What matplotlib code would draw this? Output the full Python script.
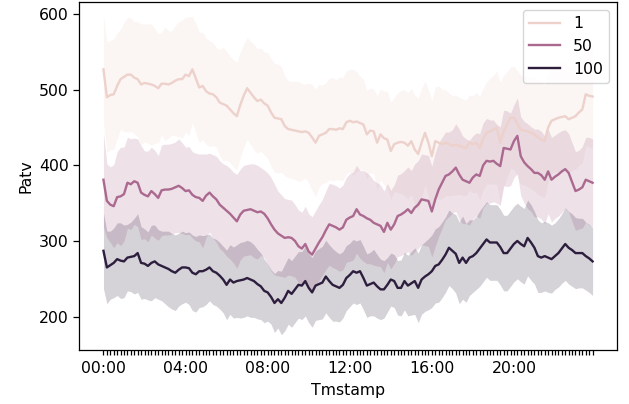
import matplotlib
matplotlib.use("Agg")
import matplotlib.pyplot as plt
import seaborn as sns
import numpy as np

# 10-minute slots over one day
times = ["%02d:%02d" % (h, m) for h in range(24) for m in range(0, 60, 10)]
hue_levels = [1, 50, 100]

# mean Patv per slot
patv_1 = [527, 490, 493, 494, 505, 514, 517, 520, 520, 516, 514, 507, 509, 508, 507, 505,
          502, 508, 508, 507, 509, 512, 514, 514, 520, 518, 527, 515, 503, 505, 498, 495,
          494, 490, 483, 481, 479, 474, 469, 465, 480, 492, 502, 496, 490, 485, 487, 482,
          479, 470, 463, 462, 461, 452, 448, 447, 446, 445, 444, 445, 443, 437, 430, 439,
          441, 443, 448, 448, 447, 449, 448, 457, 459, 457, 458, 456, 454, 441, 446, 445,
          430, 441, 436, 434, 419, 428, 430, 431, 430, 426, 432, 421, 415, 430, 443, 430,
          412, 432, 430, 428, 430, 428, 426, 427, 426, 424, 423, 430, 428, 430, 423, 435,
          443, 445, 447, 450, 430, 445, 454, 463, 463, 455, 447, 446, 445, 443, 441, 437,
          434, 432, 450, 459, 461, 463, 464, 465, 461, 463, 465, 470, 474, 494, 492, 491]
patv_50 = [381, 353, 348, 346, 358, 359, 362, 377, 375, 379, 377, 364, 361, 359, 366, 362,
           357, 367, 368, 368, 369, 371, 373, 370, 366, 367, 361, 358, 357, 353, 360, 364,
           359, 355, 348, 344, 340, 336, 331, 326, 335, 340, 341, 342, 340, 338, 339, 336,
           330, 322, 315, 310, 307, 304, 305, 304, 300, 293, 290, 296, 286, 282, 290, 298,
           305, 314, 322, 320, 318, 315, 318, 328, 331, 333, 342, 335, 333, 330, 328, 324,
           322, 320, 312, 324, 315, 322, 333, 335, 338, 342, 337, 344, 348, 355, 354, 353,
           339, 355, 368, 377, 386, 388, 392, 397, 388, 381, 379, 377, 384, 388, 386, 400,
           406, 405, 406, 402, 399, 423, 422, 421, 432, 439, 412, 404, 399, 395, 390, 390,
           387, 381, 392, 381, 385, 388, 392, 395, 390, 378, 366, 368, 371, 381, 379, 377]
patv_100 = [287, 265, 268, 271, 276, 274, 273, 278, 279, 280, 284, 271, 270, 267, 271, 273,
            269, 267, 265, 263, 260, 258, 262, 265, 265, 264, 258, 256, 260, 260, 262, 265,
            260, 258, 254, 249, 242, 249, 245, 247, 248, 249, 251, 249, 247, 243, 240, 234,
            232, 226, 218, 223, 218, 225, 234, 230, 236, 242, 241, 247, 238, 232, 241, 243,
            245, 253, 247, 242, 240, 238, 242, 251, 255, 260, 258, 260, 251, 241, 243, 245,
            240, 236, 236, 242, 249, 247, 238, 238, 247, 241, 244, 247, 238, 249, 253, 256,
            260, 267, 269, 275, 282, 291, 287, 283, 271, 278, 271, 278, 280, 284, 290, 296,
            302, 298, 298, 298, 292, 284, 284, 290, 296, 300, 296, 293, 304, 298, 291, 280,
            278, 280, 278, 276, 280, 284, 290, 296, 291, 288, 284, 284, 284, 280, 277, 273]

# half width of the confidence band per slot
ci_1 = [71, 73, 72, 73, 70, 66, 72, 76, 75, 74, 76, 80, 78, 79, 80, 76,
        72, 68, 75, 71, 69, 73, 76, 78, 76, 78, 70, 72, 73, 71, 70, 70,
        68, 66, 70, 75, 72, 70, 71, 71, 70, 68, 67, 68, 70, 69, 68, 68,
        70, 71, 72, 72, 70, 66, 64, 64, 65, 66, 64, 62, 66, 70, 71, 68,
        65, 66, 67, 68, 66, 68, 68, 68, 68, 70, 66, 62, 60, 58, 56, 56,
        62, 60, 62, 64, 64, 62, 66, 68, 70, 70, 70, 72, 74, 72, 68, 70,
        74, 72, 75, 72, 70, 68, 66, 66, 64, 64, 63, 63, 64, 66, 68, 67,
        67, 70, 72, 75, 80, 74, 70, 67, 68, 70, 72, 72, 73, 74, 75, 76,
        75, 74, 72, 70, 70, 72, 72, 70, 70, 70, 70, 70, 70, 68, 68, 68]
ci_50 = [62, 49, 50, 55, 60, 65, 62, 60, 60, 57, 58, 62, 58, 60, 58, 58,
         56, 60, 60, 60, 60, 60, 62, 60, 58, 58, 57, 58, 58, 62, 55, 52,
         55, 57, 58, 58, 60, 60, 60, 62, 60, 60, 60, 60, 62, 62, 58, 58,
         60, 62, 60, 56, 54, 52, 50, 50, 48, 48, 48, 50, 50, 50, 50, 50,
         50, 52, 54, 55, 55, 55, 56, 56, 58, 58, 58, 58, 60, 60, 58, 56,
         55, 54, 54, 52, 52, 52, 54, 54, 55, 56, 56, 58, 58, 60, 60, 60,
         60, 62, 62, 60, 58, 56, 55, 58, 60, 58, 56, 56, 55, 55, 56, 56,
         56, 55, 54, 52, 52, 50, 50, 48, 48, 50, 52, 54, 56, 56, 58, 58,
         58, 58, 56, 56, 55, 55, 54, 52, 52, 52, 52, 52, 54, 56, 58, 58]
ci_100 = [50, 48, 45, 46, 48, 50, 48, 44, 46, 50, 52, 48, 46, 45, 50, 48,
          46, 46, 48, 50, 50, 50, 48, 48, 46, 48, 50, 50, 48, 47, 46, 44,
          44, 44, 44, 44, 46, 46, 47, 48, 50, 50, 50, 50, 48, 46, 44, 42,
          38, 36, 39, 38, 42, 44, 44, 44, 44, 44, 45, 46, 46, 46, 46, 47,
          48, 48, 48, 48, 46, 45, 44, 43, 42, 42, 42, 42, 42, 42, 42, 44,
          42, 40, 38, 36, 35, 35, 36, 37, 38, 40, 42, 44, 46, 46, 46, 47,
          48, 49, 50, 50, 50, 50, 50, 52, 54, 55, 52, 50, 48, 48, 50, 50,
          50, 50, 50, 50, 50, 50, 50, 50, 50, 50, 50, 50, 50, 50, 48, 48,
          46, 46, 46, 45, 44, 45, 46, 48, 48, 48, 47, 46, 46, 45, 45, 45]

series = [patv_1, patv_50, patv_100]
bands = [ci_1, ci_50, ci_100]

plt.rcParams["font.size"] = 11.3
plt.rcParams["axes.linewidth"] = 0.9

cmap = sns.cubehelix_palette(as_cmap=True)
norm = plt.Normalize(min(hue_levels), max(hue_levels))

fig, ax = plt.subplots(figsize=(6.29, 4.04), dpi=100)
fig.subplots_adjust(left=0.1256, right=0.981, top=0.995, bottom=0.134)

x = np.arange(len(times))
for level, y, hw in zip(hue_levels, series, bands):
    col = cmap(norm(level))
    y = np.array(y)
    hw = np.array(hw)
    ax.plot(x, y, color=col, lw=1.7, label=str(level))
    ax.fill_between(x, y - hw, y + hw, color=col, alpha=0.2, lw=0)

ax.set_xticks(x)
ax.set_xticklabels([t if i % 24 == 0 else "" for i, t in enumerate(times)])
ax.tick_params(axis="x", length=3.3, width=0.9, pad=5)
ax.tick_params(axis="y", length=4, width=0.9)
ax.set_xlim(-7.15, len(times) - 1 + 7.15)
ax.set_ylim(156, 616)
ax.set_yticks([200, 300, 400, 500, 600])
ax.set_xlabel("Tmstamp", labelpad=5)
ax.set_ylabel("Patv")
ax.legend(loc="upper right")

fig.savefig("out.png", dpi=100)
